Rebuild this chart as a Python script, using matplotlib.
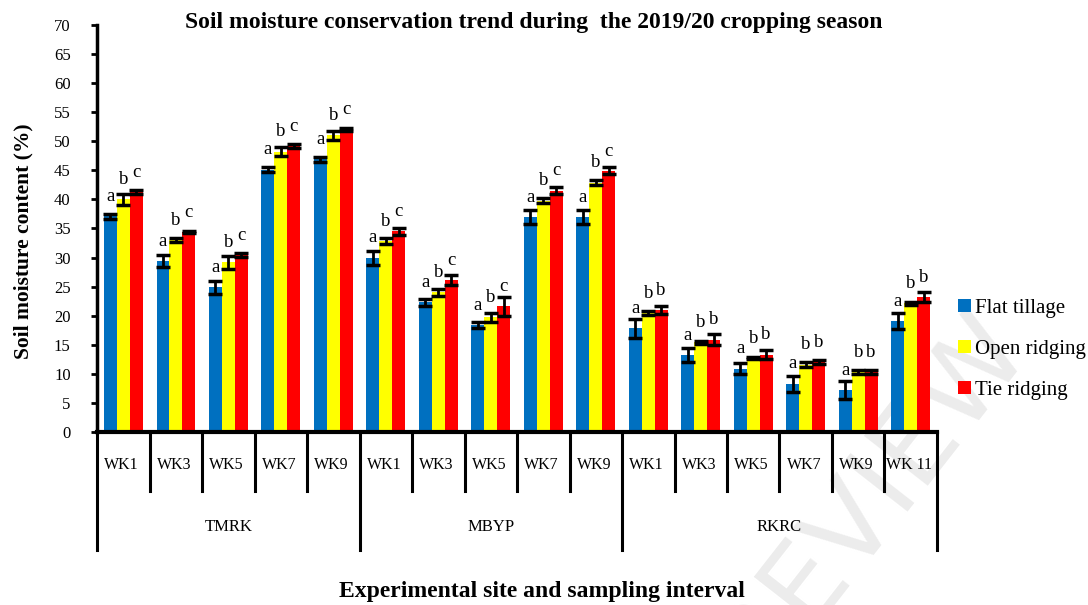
import matplotlib
matplotlib.use("Agg")
import matplotlib.pyplot as plt
from matplotlib.patches import Patch
import numpy as np

plt.rcParams['font.family'] = ['Liberation Serif', 'DejaVu Serif']

sites = ["TMRK", "MBYP", "RKRC"]
weeks = ["WK1", "WK3", "WK5", "WK7", "WK9",
         "WK1", "WK3", "WK5", "WK7", "WK9",
         "WK1", "WK3", "WK5", "WK7", "WK9", "WK 11"]
site_sizes = [5, 5, 6]

series = ["Flat tillage", "Open ridging", "Tie ridging"]
colors = ["#0070C0", "#FFFF00", "#FF0000"]

flat = [37.1, 29.4, 24.9, 45.1, 46.9, 30.0, 22.3, 18.4, 37.0, 37.0, 17.8, 13.2, 10.9, 8.3, 7.2, 19.1]
openr = [40.0, 33.0, 29.2, 48.2, 51.0, 32.8, 24.0, 19.7, 39.8, 42.9, 20.5, 15.4, 12.7, 11.6, 10.3, 22.1]
tie = [41.3, 34.4, 30.4, 49.2, 52.0, 34.5, 26.1, 21.6, 41.5, 44.9, 21.0, 15.9, 13.3, 12.0, 10.3, 23.2]

flat_err = [0.4, 1.0, 1.1, 0.4, 0.4, 1.2, 0.6, 0.5, 1.2, 1.2, 1.6, 1.2, 1.0, 1.4, 1.6, 1.4]
open_err = [0.9, 0.3, 1.1, 0.8, 0.8, 0.5, 0.6, 0.7, 0.5, 0.5, 0.3, 0.2, 0.2, 0.4, 0.3, 0.3]
tie_err = [0.3, 0.2, 0.3, 0.3, 0.3, 0.6, 0.9, 1.6, 0.6, 0.6, 0.7, 0.9, 0.8, 0.3, 0.3, 0.9]

flat_let = ["a"] * 16
open_let = ["b"] * 16
tie_let = ["c"] * 10 + ["b"] * 6

fig = plt.figure(figsize=(10.88, 6.05), dpi=100)
ax = fig.add_axes([0.0892, 0.2860, 0.7720, 0.6727])
ax.patch.set_alpha(0)

# faint watermark behind everything
fig.text(0.80, 0.18, "REVIEW", rotation=52, fontsize=80, color="#ececec",
         ha="center", va="center", zorder=-5, family="DejaVu Sans")

x = np.arange(len(weeks))
w = 0.245
data = [(flat, flat_err, flat_let), (openr, open_err, open_let), (tie, tie_err, tie_let)]
handles = []
for i, (vals, errs, lets) in enumerate(data):
    xs = x + (i - 1) * w
    ax.bar(xs, vals, width=w, color=colors[i], zorder=2)
    ax.errorbar(xs, vals, yerr=errs, fmt="none", ecolor="black",
                elinewidth=2, capsize=5, capthick=2.5, zorder=3)
    for xi, v, l in zip(xs, vals, lets):
        ax.annotate(l, (xi, v), xytext=(0, 11), textcoords="offset points",
                    ha="center", va="baseline", fontsize=13.5)
    handles.append(Patch(facecolor=colors[i], label=series[i]))

ax.set_xlim(-0.5, len(weeks) - 0.5)
ax.set_ylim(0, 70)
ax.set_yticks(np.arange(0, 71, 5))
ax.tick_params(axis="y", direction="out", length=4, width=2, pad=15, labelsize=12)
ax.set_xticks([])
for s in ["top", "right"]:
    ax.spines[s].set_visible(False)
ax.spines["left"].set_linewidth(2.5)
ax.spines["bottom"].set_linewidth(3)

# category table below the axis
tr = ax.get_xaxis_transform()
short_y = -0.145
long_y = -0.29
bounds = np.cumsum([0] + site_sizes) - 0.5
for b in np.arange(-0.5, len(weeks)):
    yend = long_y if b in bounds else short_y
    ax.plot([b, b], [0, yend], color="black", lw=2.2, transform=tr, clip_on=False)
for xi, lab in zip(x, weeks):
    ax.text(xi - 0.03, -0.081, lab, transform=tr, ha="center", va="center", fontsize=11.5)
for k, s in enumerate(sites):
    mid = (bounds[k] + bounds[k + 1]) / 2
    ax.text(mid, -0.233, s, transform=tr, ha="center", va="center", fontsize=12)

fig.text(0.491, 0.962, "Soil moisture conservation trend during  the 2019/20 cropping season",
         ha="center", va="center", fontsize=17, fontweight="bold")
fig.text(0.498, 0.022, "Experimental site and sampling interval",
         ha="center", va="center", fontsize=17, fontweight="bold")
fig.text(0.022, 0.602, "Soil moisture content (%)", rotation=90,
         ha="center", va="center", fontsize=15.5, fontweight="bold")

fig.legend(handles=handles, loc="center left", bbox_to_anchor=(0.873, 0.423),
           frameon=False, fontsize=15, handlelength=0.6, handleheight=0.6,
           handletextpad=0.2, labelspacing=1.06, borderaxespad=0)

fig.savefig("out.png", dpi=100)
